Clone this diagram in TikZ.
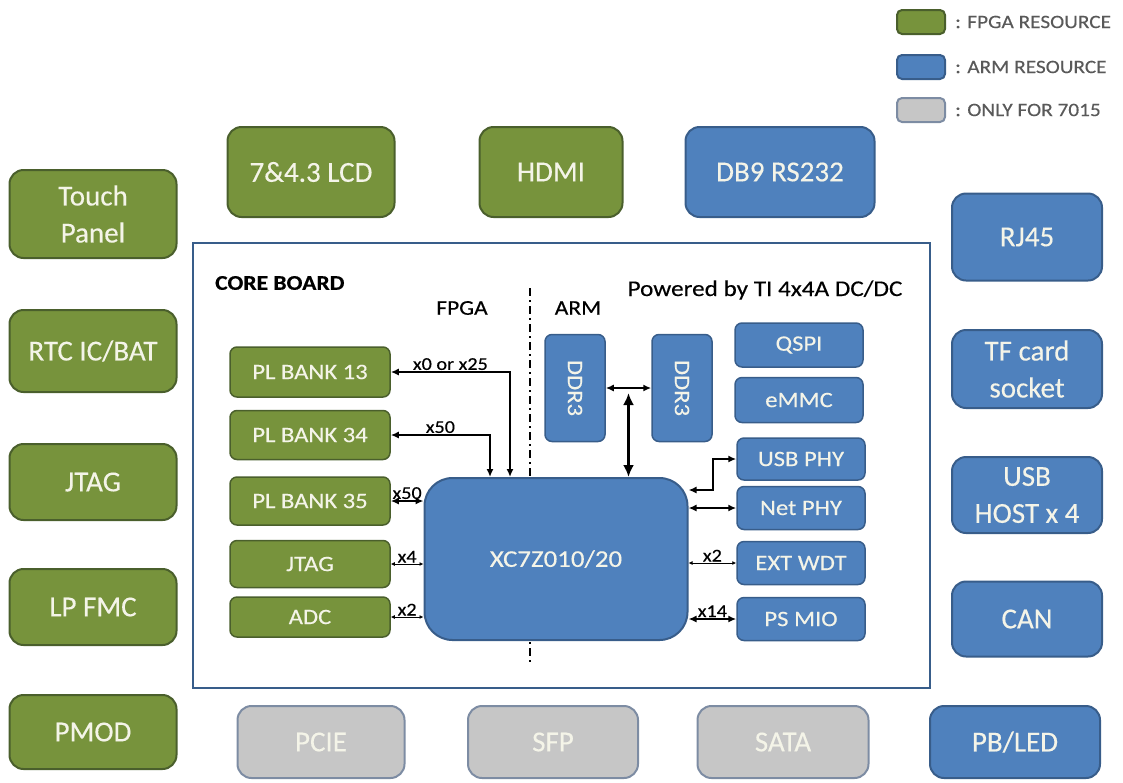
\documentclass[tikz,border=0pt]{standalone}
\usepackage{fontspec}
\setmainfont{Carlito}[FakeBold=0.3]
\newfontfamily\widefont{Carlito}[FakeStretch=1.12, FakeBold=0.3]
\usetikzlibrary{positioning,calc,arrows.meta}

\definecolor{fpgagreen}{HTML}{77933C}
\definecolor{fpgaline}{HTML}{4A5F2C}
\definecolor{armblue}{HTML}{4F81BD}
\definecolor{armline}{HTML}{385D8A}
\definecolor{onlygray}{HTML}{C6C6C6}
\definecolor{onlyline}{HTML}{7D8CA3}
\definecolor{boxtext}{HTML}{F4F4E8}
\definecolor{legtext}{HTML}{595959}

\begin{document}
\begin{tikzpicture}[x=1pt,y=-1pt,
    box/.style={rounded corners=14pt, line width=2pt, text=boxtext, inner sep=0pt, align=center,
        font=\fontsize{29}{37}\selectfont},
    fpga/.style={box, fill=fpgagreen, draw=fpgaline},
    arm/.style={box, fill=armblue, draw=armline},
    only/.style={box, fill=onlygray, draw=onlyline},
    inbox/.style={rounded corners=7pt, line width=1.5pt, text=boxtext, inner sep=0pt,
        minimum width=160pt, font=\widefont\fontsize{22}{26}\selectfont},
    legbox/.style={rounded corners=5pt, line width=2pt, minimum width=48pt, minimum height=24pt, inner sep=0pt},
    legtxt/.style={text=legtext, font=\widefont\fontsize{19}{22}\selectfont, inner sep=0pt},
    lbl/.style={font=\widefont\fontsize{18}{22}\selectfont, inner sep=1pt},
    heavy/.style={{Latex[length=8pt,width=7pt]}-{Latex[length=8pt,width=7pt]}, line width=2pt},
    light/.style={{Latex[length=4pt,width=4pt]}-{Latex[length=4pt,width=4pt]}, line width=1pt},
    head/.style={font=\widefont\fontsize{21}{24}\selectfont, inner sep=0pt}
    ]
\useasboundingbox (0,0) rectangle (1123,782);

% legend
\node[legbox, fill=fpgagreen, draw=fpgaline] (legf) at (921,22) {};
\node[legbox, fill=armblue, draw=armline] (lega) at (921,67) {};
\node[legbox, fill=onlygray, draw=onlyline] (lego) at (921,110) {};
\node[legtxt, right=9pt of legf] {: FPGA RESOURCE};
\node[legtxt, right=9pt of lega] {: ARM RESOURCE};
\node[legtxt, right=9pt of lego] {: ONLY FOR 7015};

% top row
\node[fpga, minimum width=167pt, minimum height=90pt] (lcd) at (311,172) {7\&4.3 LCD};
\node[fpga, minimum width=143pt, minimum height=90pt] (hdmi) at (551,172) {HDMI};
\node[arm, minimum width=189pt, minimum height=90pt] (db9) at (780,172) {DB9 RS232};

% left column
\node[fpga, minimum width=167pt, minimum height=88pt] (touch) at (93,214) {Touch\\Panel};
\node[fpga, minimum width=167pt, minimum height=82pt] (rtc) at (93,351) {RTC IC/BAT};
\node[fpga, minimum width=167pt, minimum height=76pt] (jtag) at (93,482) {JTAG};
\node[fpga, minimum width=167pt, minimum height=76pt] (lpfmc) at (93,607) {LP FMC};
\node[fpga, minimum width=167pt, minimum height=74pt] (pmod) at (93,732) {PMOD};

% right column
\node[arm, minimum width=150pt, minimum height=87pt] (rj45) at (1027,237) {RJ45};
\node[arm, minimum width=150pt, minimum height=78pt] (tf) at (1027,369) {TF card\\socket};
\node[arm, minimum width=150pt, minimum height=76pt] (usbh) at (1027,495) {USB\\HOST x 4};
\node[arm, minimum width=150pt, minimum height=75pt] (can) at (1027,619) {CAN};
\node[arm, minimum width=170pt, minimum height=72pt] (pbled) at (1015,742) {PB/LED};

% bottom row
\node[only, minimum width=167pt, minimum height=72pt] (pcie) at (321,742) {PCIE};
\node[only, minimum width=170pt, minimum height=72pt] (sfp) at (553,742) {SFP};
\node[only, minimum width=171pt, minimum height=72pt] (sata) at (783,742) {SATA};

% core board
\draw[armline, line width=1.5pt] (193,243) rectangle (930,688);
\node[head, anchor=west, font=\widefont\bfseries\fontsize{21}{24}\selectfont] (core) at (215,283) {CORE BOARD};
\node[head] (fpgalbl) at (462,308) {FPGA};
\node[head] (armlbl) at (578,308) {ARM};
\node[head, font=\widefont\fontsize{22.5}{26}\selectfont] (power) at (765,290) {Powered by TI 4x4A DC/DC};
\draw[line width=2pt, dash pattern=on 8pt off 4pt on 2pt off 4pt] (530,288) -- (530,662);

\node[inbox, fill=fpgagreen, draw=fpgaline, minimum height=50pt] (pl13) at (310,372) {PL BANK 13};
\node[inbox, fill=fpgagreen, draw=fpgaline, minimum height=49pt] (pl34) at (310,435) {PL BANK 34};
\node[inbox, fill=fpgagreen, draw=fpgaline, minimum height=48pt] (pl35) at (310,501) {PL BANK 35};
\node[inbox, fill=fpgagreen, draw=fpgaline, minimum height=47pt] (pjtag) at (310,564) {JTAG};
\node[inbox, fill=fpgagreen, draw=fpgaline, minimum height=40pt] (adc) at (310,617) {ADC};

\node[arm, rounded corners=28pt, minimum width=263pt, minimum height=162pt,
    font=\widefont\fontsize{24}{28}\selectfont] (xc) at (556,559) {XC7Z010/20};

\node[inbox, fill=armblue, draw=armline, minimum width=60pt, minimum height=107pt] (ddra) at (575,388) {\rotatebox{-90}{DDR3}};
\node[inbox, fill=armblue, draw=armline, minimum width=60pt, minimum height=107pt] (ddrb) at (682,388) {\rotatebox{-90}{DDR3}};
\node[inbox, fill=armblue, draw=armline, minimum width=128pt, minimum height=44pt] (qspi) at (799,345) {QSPI};
\node[inbox, fill=armblue, draw=armline, minimum width=128pt, minimum height=45pt] (emmc) at (799,400) {eMMC};
\node[inbox, fill=armblue, draw=armline, minimum width=128pt, minimum height=42pt] (usbphy) at (801,459) {USB PHY};
\node[inbox, fill=armblue, draw=armline, minimum width=128pt, minimum height=43pt] (netphy) at (801,508) {Net PHY};
\node[inbox, fill=armblue, draw=armline, minimum width=128pt, minimum height=43pt] (wdt) at (801,563) {EXT WDT};
\node[inbox, fill=armblue, draw=armline, minimum width=128pt, minimum height=43pt] (mio) at (801,619) {PS MIO};

% connections
\draw[heavy] (pl13.east) -| node[lbl, above, pos=.25] {x0 or x25} ([xshift=-46pt]xc.north);
\draw[heavy] (pl34.east) -| node[lbl, above, pos=.25] {x50} ([xshift=-66pt]xc.north);
\draw[heavy] (pl35.east) -- node[lbl, above] {x50} (pl35.east -| xc.west);
\draw[light] (pjtag.east) -- node[lbl, above] {x4} (pjtag.east -| xc.west);
\draw[light] (adc.east) -- node[lbl, above] {x2} (adc.east -| xc.west);

\coordinate (ddrmid) at ($(ddra.east)!.5!(ddrb.west)$);
\draw[heavy] (ddra.east) -- (ddrb.west);
\draw[{Latex[length=12pt,width=11pt]}-{Latex[length=12pt,width=11pt]}, line width=3pt] ([yshift=-5pt]ddrmid) -- (ddrmid |- xc.north);

\draw[heavy] ([yshift=69pt]xc.east) -- ++(24,0) |- (usbphy.west);
\draw[heavy] (netphy.west -| xc.east) -- (netphy.west);
\draw[light] (wdt.west -| xc.east) -- node[lbl, above] {x2} (wdt.west);
\draw[heavy] (mio.west -| xc.east) -- node[lbl, above] {x14} (mio.west);
\end{tikzpicture}
\end{document}
